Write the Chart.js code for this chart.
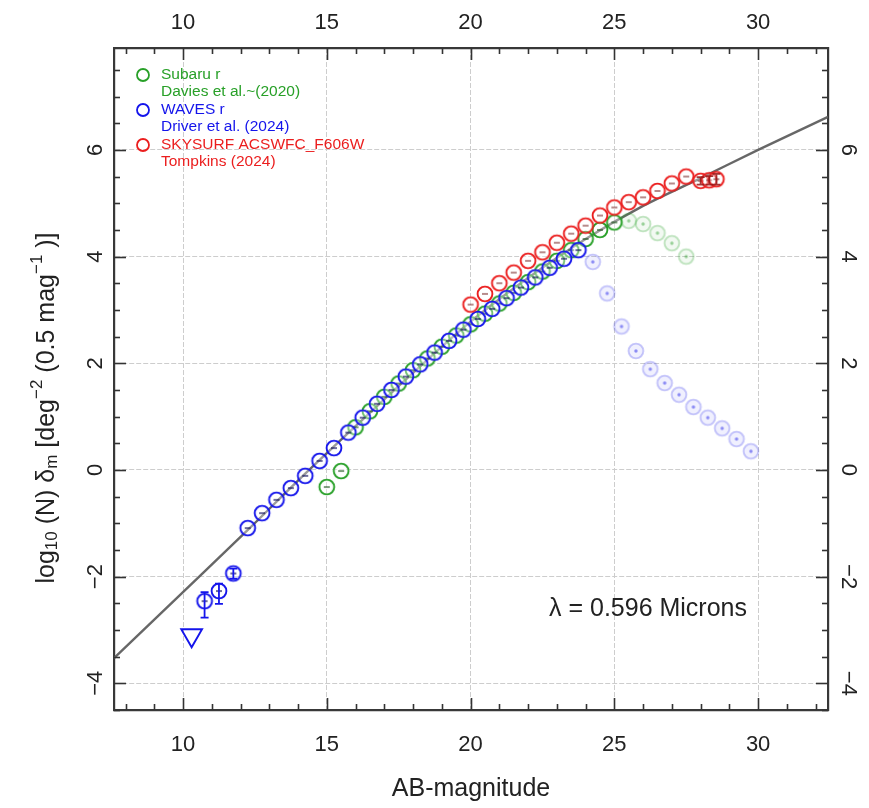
<!DOCTYPE html>
<html>
<head>
<meta charset="utf-8">
<title>Galaxy number counts, 0.596 micron</title>
<script src="https://cdn.jsdelivr.net/npm/chart.js@4.4.1/dist/chart.umd.min.js"></script>
<style>
  html, body { margin: 0; padding: 0; background: #fff; }
  #wrap { width: 869px; height: 808px; }
</style>
</head>
<body>
<div id="wrap"><canvas id="counts" width="869" height="808"></canvas></div>
<script>
// Subaru r (Davies et al. 2020)
const subaruMag = [15.0, 15.5, 16.0, 16.5, 17.0, 17.5, 18.0, 18.5, 19.0, 19.5, 20.0,
                   20.5, 21.0, 21.5, 22.0, 22.5, 23.0, 23.5, 24.0, 24.5, 25.0];
const subaruLogN = [-0.32, -0.02, 0.80, 1.10, 1.37, 1.62, 1.87, 2.09, 2.31, 2.52, 2.73,
                    2.93, 3.12, 3.32, 3.52, 3.72, 3.92, 4.12, 4.33, 4.50, 4.64];
// beyond the completeness limit
const subaruFaintMag = [25.5, 26.0, 26.5, 27.0, 27.5];
const subaruFaintLogN = [4.67, 4.61, 4.44, 4.25, 4.00];

// WAVES r (Driver et al. 2024)
const wavesMag = [10.75, 11.25, 11.75, 12.25, 12.75, 13.25, 13.75, 14.25, 14.75, 15.25,
                  15.75, 16.25, 16.75, 17.25, 17.75, 18.25, 18.75, 19.25, 19.75, 20.25,
                  20.75, 21.25, 21.75, 22.25, 22.75, 23.25, 23.75];
const wavesLogN = [-2.46, -2.27, -1.94, -1.09, -0.81, -0.56, -0.34, -0.11, 0.17, 0.41,
                   0.70, 0.98, 1.24, 1.50, 1.75, 1.98, 2.20, 2.42, 2.63, 2.83,
                   3.02, 3.22, 3.42, 3.61, 3.79, 3.96, 4.12];
// asymmetric errors on the three brightest bins
const wavesErrDown = [0.31, 0.24, 0.10];
const wavesErrUp = [0.17, 0.14, 0.09];
// upper limit
const wavesLimitMag = [10.3];
const wavesLimitLogN = [-3.1];
const wavesFaintMag = [24.25, 24.75, 25.25, 25.75, 26.25, 26.75, 27.25, 27.75, 28.25, 28.75, 29.25, 29.75];
const wavesFaintLogN = [3.90, 3.31, 2.69, 2.23, 1.89, 1.63, 1.41, 1.18, 0.98, 0.78, 0.58, 0.35];

// SKYSURF ACSWFC_F606W (Tompkins 2024)
const skysurfMag = [20.0, 20.5, 21.0, 21.5, 22.0, 22.5, 23.0, 23.5, 24.0, 24.5,
                    25.0, 25.5, 26.0, 26.5, 27.0, 27.5, 28.0, 28.3, 28.55];
const skysurfLogN = [3.10, 3.30, 3.50, 3.70, 3.92, 4.08, 4.26, 4.43, 4.58, 4.77,
                     4.92, 5.02, 5.11, 5.23, 5.37, 5.50, 5.42, 5.43, 5.45];
// errors on the three faintest bins
const skysurfErr = [0.07, 0.08, 0.10];

// model curve
const modelMag = [7.6, 10, 12.3, 14, 16, 18, 20, 22, 24, 26, 28, 30, 32.43];
const modelLogN = [-3.53, -2.29, -1.10, -0.20, 0.82, 1.82, 2.78, 3.60, 4.33, 4.95, 5.47, 6.00, 6.62];

const xTicks = [10, 15, 20, 25, 30];
const yTicks = [-4, -2, 0, 2, 4, 6];

const GREEN = 'rgb(40,160,40)';
const BLUE = 'rgb(20,20,235)';
const RED = 'rgb(235,30,30)';
const FONT = '"Liberation Sans", Arial, Helvetica, sans-serif';

const pts = (xs, ys) => xs.map((x, i) => ({ x, y: ys[i] }));

// ring markers drawn once to offscreen canvases
function ring(stroke, fill, mark, dot) {
  const s = 22, c = document.createElement('canvas');
  c.width = c.height = s;
  const g = c.getContext('2d');
  g.beginPath();
  g.arc(s / 2, s / 2, 7.4, 0, Math.PI * 2);
  if (fill) { g.fillStyle = fill; g.fill(); }
  g.lineWidth = 1.9;
  g.strokeStyle = stroke;
  g.stroke();
  if (mark) {
    g.beginPath();
    g.moveTo(s / 2 - 3, s / 2);
    g.lineTo(s / 2 + 3, s / 2);
    g.lineWidth = 1.4;
    g.strokeStyle = mark;
    g.stroke();
  }
  if (dot) {
    g.beginPath();
    g.arc(s / 2, s / 2, 1.7, 0, Math.PI * 2);
    g.fillStyle = dot;
    g.fill();
  }
  return c;
}

const greenRing = ring(GREEN, 'rgba(255,255,255,0.35)', 'rgba(20,80,20,0.8)');
const blueRing = ring(BLUE, 'rgba(255,255,255,0.35)', 'rgba(10,10,90,0.85)');
const redRing = ring(RED, 'rgba(255,255,255,0.35)', 'rgba(110,20,20,0.7)');
const greenFaint = ring('rgba(40,160,40,0.28)', 'rgba(40,160,40,0.06)', null, 'rgba(40,160,40,0.45)');
const blueFaint = ring('rgba(40,40,235,0.25)', 'rgba(40,40,235,0.07)', null, 'rgba(40,40,235,0.5)');

const padNull = n => Array(n).fill(null);

const errorBars = {
  id: 'errorBars',
  afterDatasetsDraw(chart) {
    const { ctx } = chart;
    const ys = chart.scales.y;
    chart.data.datasets.forEach((ds, di) => {
      if (!ds.errDown) return;
      const meta = chart.getDatasetMeta(di);
      ctx.save();
      ctx.strokeStyle = ds.errColor;
      ctx.lineWidth = 1.8;
      meta.data.forEach((pt, i) => {
        const lo = ds.errDown[i], hi = ds.errUp[i];
        if (lo == null) return;
        const v = ds.data[i].y;
        const y1 = ys.getPixelForValue(v - lo), y2 = ys.getPixelForValue(v + hi);
        ctx.beginPath();
        ctx.moveTo(pt.x, y1); ctx.lineTo(pt.x, y2);
        ctx.moveTo(pt.x - 4, y1); ctx.lineTo(pt.x + 4, y1);
        ctx.moveTo(pt.x - 4, y2); ctx.lineTo(pt.x + 4, y2);
        ctx.stroke();
      });
      ctx.restore();
    });
  }
};

// tick marks pointing into the frame on all four sides
const innerTicks = {
  id: 'innerTicks',
  afterDatasetsDraw(chart) {
    const { ctx, chartArea: a, scales } = chart;
    ctx.save();
    ctx.strokeStyle = '#333';
    ctx.lineWidth = 1.6;
    const seg = (x1, y1, x2, y2) => { ctx.beginPath(); ctx.moveTo(x1, y1); ctx.lineTo(x2, y2); ctx.stroke(); };
    for (let v = 8; v <= 32; v++) {
      const px = Math.round(scales.x.getPixelForValue(v)) + 0.5;
      const len = v % 5 === 0 ? 12 : 6;
      seg(px, a.bottom, px, a.bottom - len);
      seg(px, a.top, px, a.top + len);
    }
    for (let k = -9; k <= 15; k++) {
      const v = k / 2;
      const py = Math.round(scales.y.getPixelForValue(v)) + 0.5;
      const len = k % 4 === 0 ? 12 : 6;
      seg(a.left, py, a.left + len, py);
      seg(a.right, py, a.right - len, py);
    }
    ctx.restore();
  }
};

// legend, wavelength note and the y-axis title with sub/superscripts
const textLayer = {
  id: 'textLayer',
  afterDraw(chart) {
    const { ctx } = chart;
    ctx.save();
    const rows = [
      { c: GREEN, y: 75, lines: ['Subaru r', 'Davies et al.~(2020)'] },
      { c: BLUE, y: 110, lines: ['WAVES r', 'Driver et al. (2024)'] },
      { c: RED, y: 145, lines: ['SKYSURF ACSWFC_F606W', 'Tompkins (2024)'] }
    ];
    rows.forEach(r => {
      ctx.beginPath();
      ctx.arc(143, r.y, 6, 0, Math.PI * 2);
      ctx.lineWidth = 1.8;
      ctx.strokeStyle = r.c;
      ctx.stroke();
      ctx.fillStyle = r.c;
      ctx.font = '15.5px ' + FONT;
      ctx.textBaseline = 'middle';
      ctx.textAlign = 'left';
      ctx.fillText(r.lines[0], 161, r.y);
      ctx.fillText(r.lines[1], 161, r.y + 16.5);
    });

    ctx.fillStyle = '#222';
    ctx.font = '25px ' + FONT;
    ctx.textAlign = 'center';
    ctx.fillText('\u03bb = 0.596 Microns', 648, 609);

    // y title
    const runs = [
      ['log', 0], ['10', -1], [' (N) \u03b4', 0], ['m', -1], [' [deg', 0], ['\u22122', 1],
      [' (0.5 mag', 0], ['\u22121', 1], [' )]', 0]
    ];
    const big = 25, small = 17;
    let total = 0;
    runs.forEach(r => { ctx.font = (r[1] ? small : big) + 'px ' + FONT; total += ctx.measureText(r[0]).width; });
    ctx.translate(47, 408);
    ctx.rotate(-Math.PI / 2);
    ctx.textAlign = 'left';
    ctx.textBaseline = 'middle';
    let x = -total / 2;
    runs.forEach(r => {
      ctx.font = (r[1] ? small : big) + 'px ' + FONT;
      const dy = r[1] === -1 ? 5 : r[1] === 1 ? -10 : 0;
      ctx.fillText(r[0], x, dy);
      x += ctx.measureText(r[0]).width;
    });
    ctx.restore();
  }
};

const minus = v => (v < 0 ? '\u2212' + Math.abs(v) : String(v));
const tickFont = { family: FONT, size: 22 };
const frame = { display: true, color: '#383838', width: 2.2, dash: [5, 2] };
const gridLines = { color: '#cdcdcd', lineWidth: 1, drawTicks: false };

const datasets = [
  {
    label: 'SKYSURF ACSWFC_F606W', data: pts(skysurfMag, skysurfLogN),
    pointStyle: redRing, pointRadius: 8,
    errDown: padNull(skysurfMag.length - skysurfErr.length).concat(skysurfErr),
    errUp: padNull(skysurfMag.length - skysurfErr.length).concat(skysurfErr),
    errColor: 'rgba(150,20,20,0.85)'
  },
  {
    label: 'WAVES r', data: pts(wavesMag, wavesLogN),
    pointStyle: blueRing, pointRadius: 8,
    errDown: wavesErrDown.concat(padNull(wavesMag.length - wavesErrDown.length)),
    errUp: wavesErrUp.concat(padNull(wavesMag.length - wavesErrUp.length)),
    errColor: BLUE
  },
  {
    label: 'WAVES r limit', data: pts(wavesLimitMag, wavesLimitLogN),
    pointStyle: 'triangle', rotation: 180, pointRadius: 12,
    borderColor: BLUE, backgroundColor: 'rgba(0,0,0,0)', borderWidth: 1.9
  },
  {
    label: 'Subaru r', data: pts(subaruMag, subaruLogN),
    pointStyle: greenRing, pointRadius: 8
  },
  {
    label: 'WAVES r faint', data: pts(wavesFaintMag, wavesFaintLogN),
    pointStyle: blueFaint, pointRadius: 8
  },
  {
    label: 'Subaru r faint', data: pts(subaruFaintMag, subaruFaintLogN),
    pointStyle: greenFaint, pointRadius: 8
  },
  {
    type: 'line', label: 'model', data: pts(modelMag, modelLogN),
    borderColor: 'rgba(95,95,95,0.95)', borderWidth: 2.4, pointRadius: 0,
    showLine: true, cubicInterpolationMode: 'monotone', fill: false
  }
];

new Chart(document.getElementById('counts'), {
  type: 'scatter',
  data: { datasets },
  options: {
    responsive: false,
    animation: false,
    events: [],
    layout: { padding: 0 },
    plugins: { legend: { display: false }, tooltip: { enabled: false } },
    scales: {
      x: {
        type: 'linear', position: 'bottom', min: 7.6, max: 32.43,
        afterBuildTicks: s => { s.ticks = xTicks.map(v => ({ value: v })); },
        ticks: { font: tickFont, color: '#222', padding: 22, maxRotation: 0 },
        grid: gridLines, border: frame,
        title: { display: true, text: 'AB-magnitude', font: { family: FONT, size: 25 }, color: '#222', padding: { top: 0, bottom: 4 } },
        afterFit: s => { s.height = 98; }
      },
      x2: {
        type: 'linear', position: 'top', min: 7.6, max: 32.43,
        afterBuildTicks: s => { s.ticks = xTicks.map(v => ({ value: v })); },
        ticks: { font: tickFont, color: '#222', padding: 12, maxRotation: 0 },
        grid: { display: false, drawTicks: false }, border: frame,
        afterFit: s => { s.height = 48; }
      },
      y: {
        type: 'linear', position: 'left', min: -4.5, max: 7.91,
        afterBuildTicks: s => { s.ticks = yTicks.map(v => ({ value: v })); },
        ticks: { font: tickFont, color: '#222', padding: 6, minRotation: 90, maxRotation: 90, crossAlign: 'center', callback: minus },
        grid: gridLines, border: frame,
        afterFit: s => { s.width = 114; }
      },
      y2: {
        type: 'linear', position: 'right', min: -4.5, max: 7.91,
        afterBuildTicks: s => { s.ticks = yTicks.map(v => ({ value: v })); },
        ticks: { font: tickFont, color: '#222', padding: 8, minRotation: -90, maxRotation: -90, crossAlign: 'center', callback: minus },
        grid: { display: false, drawTicks: false }, border: frame,
        afterFit: s => { s.width = 41; }
      }
    }
  },
  plugins: [errorBars, innerTicks, textLayer]
});
</script>
</body>
</html>
